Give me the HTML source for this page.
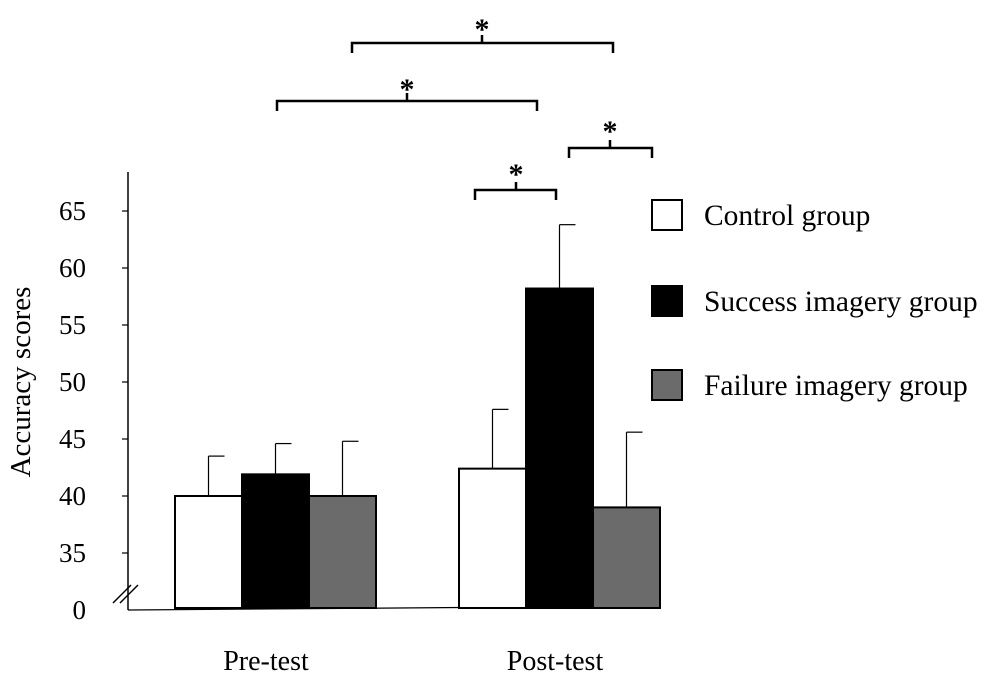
<!DOCTYPE html>
<html><head><meta charset="utf-8"><style>
body{margin:0;background:#fff;}
svg{display:block;font-family:"Liberation Serif",serif;}
</style></head><body>
<svg id="chart" width="992" height="674"></svg>
<script>
const groups=["Pre-test","Post-test"];
const seriesNames=["Control group","Success imagery group","Failure imagery group"];
const control=[40.0,42.4];
const success=[41.9,58.2];
const failure=[40.0,39.0];
const controlErr=[3.5,5.2];
const successErr=[2.7,5.6];
const failureErr=[4.8,6.6];
const ticks=[35,40,45,50,55,60,65];
const NS="http://www.w3.org/2000/svg";
const svg=document.getElementById("chart");
function el(t,a,txt){const e=document.createElementNS(NS,t);for(const k in a)e.setAttribute(k,a[k]);if(txt!==undefined)e.textContent=txt;svg.appendChild(e);return e;}
function y(v){return 496-(v-40)*11.4;}
const baseY=608;
let ax=el("line",{x1:128,y1:172,x2:128,y2:610,stroke:"#000","stroke-width":1.5});


let xl=el("line",{x1:128,y1:610,x2:660,y2:606,stroke:"#000","stroke-width":1.2});


ticks.forEach(t=>{
 const l=el("line",{x1:122,y1:y(t),x2:128,y2:y(t),stroke:"#000","stroke-width":1.2});
 
 
 const tx=el("text",{x:86,y:y(t)+9,"font-size":27,"text-anchor":"end"},t);
 
 
});
let z=el("text",{x:86,y:619,"font-size":27,"text-anchor":"end"},"0");


[0,7].forEach(d=>{const b=el("line",{x1:113+d,y1:603,x2:131+d,y2:585,stroke:"#000","stroke-width":1.5});
 
 });
let yt=el("text",{x:0,y:0,"font-size":29,"text-anchor":"middle",transform:"translate(30,382) rotate(-90)"},"Accuracy scores");


const gx=[175,459], bw=67;
const fills=["#fff","#000","#6b6b6b"];
const vals=[control,success,failure], errs=[controlErr,successErr,failureErr];
groups.forEach((g,i)=>{
 vals.forEach((s,j)=>{
  const x=gx[i]+j*bw, top=y(s[i]);
  const r=el("rect",{x:x,y:top,width:bw,height:baseY-top,fill:fills[j],stroke:"#000","stroke-width":2});
  
  
  const cx=x+bw/2, et=y(s[i]+errs[j][i]);
  const e=el("line",{x1:cx,y1:top,x2:cx,y2:et,stroke:"#000","stroke-width":1.2});
  
  
  const c=el("line",{x1:cx,y1:et,x2:cx+16,y2:et,stroke:"#000","stroke-width":1.2});
  
  
 });
 const lb=el("text",{x:[266,555][i],y:670,"font-size":28,"text-anchor":"middle"},g);
 
 
});
seriesNames.forEach((n,j)=>{
 const ly=[200,286,370][j];
 const r=el("rect",{x:652,y:ly,width:30,height:30,fill:fills[j],stroke:"#000","stroke-width":2});
 
 
 const t=el("text",{x:704,y:ly+25,"font-size":29.5},n);
 
 
});
[[352,613,43,482,15],[277,537,101,407,75],[475,556,190,516,160],[569,652,148,610,117]].forEach(b=>{
 const p=el("path",{d:`M${b[0]},${b[2]+10}V${b[2]}H${b[1]}V${b[2]+10}M${b[3]},${b[2]}V${b[2]-8}`,fill:"none",stroke:"#000","stroke-width":2.5});
 
 
 const s=el("text",{x:b[3],y:b[4]+24,"font-size":30,"text-anchor":"middle","font-weight":"bold"},"*");
 
 
});
</script>
</body></html>
